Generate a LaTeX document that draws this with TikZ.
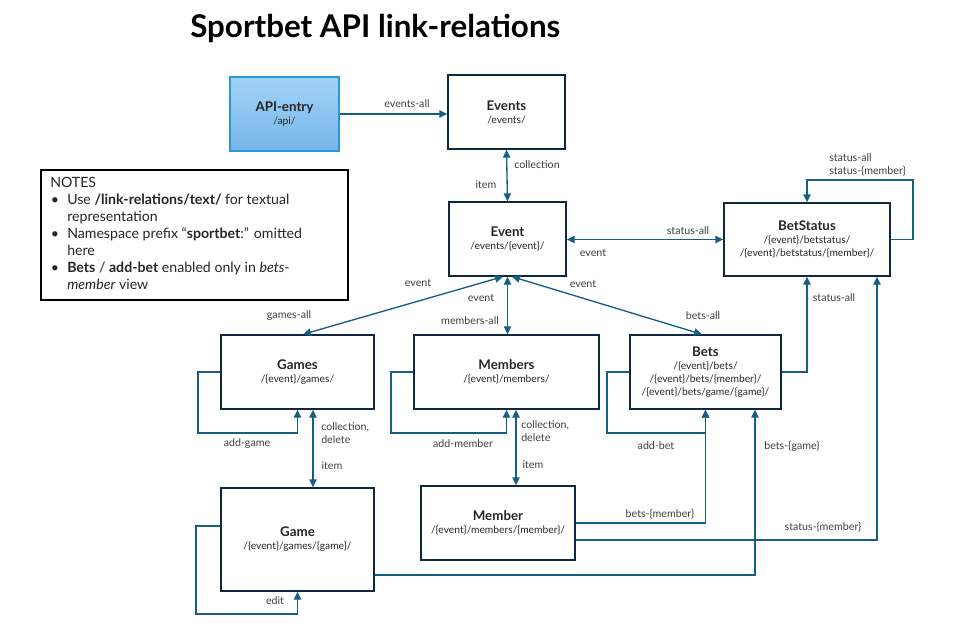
\documentclass[tikz,border=0pt]{standalone}
\usepackage{fontspec}
\setmainfont{Lato}
\usetikzlibrary{arrows.meta,calc}
\definecolor{lnc}{HTML}{156082}
\definecolor{bxc}{HTML}{0E2841}
\definecolor{lbc}{HTML}{404040}
\definecolor{apitop}{HTML}{A2D2F6}
\definecolor{apibot}{HTML}{76B6EA}
\definecolor{apibd}{HTML}{2A96D6}
\newcommand{\bxname}[1]{{\fontsize{10}{12}\selectfont\bfseries #1}}
\begin{document}
\begin{tikzpicture}[x=0.75pt,y=-0.75pt,
  box/.style={draw=bxc,line width=1pt,fill=white,inner sep=0pt,align=center,
    font=\fontsize{7.7}{9.75}\selectfont,text=black!85},
  conn/.style={draw=lnc,line width=1pt,-{Triangle[length=6pt,width=5.5pt]}},
  conntwo/.style={draw=lnc,line width=1pt,{Triangle[length=6pt,width=5.5pt]}-{Triangle[length=6pt,width=5.5pt]}},
  lbl/.style={text=lbc,font=\fontsize{8}{9}\selectfont,inner sep=0pt}]
\fill[white] (0,0) rectangle (965,635);
\useasboundingbox (0,0) rectangle (965,635);

\node[anchor=base west,inner sep=0pt,font=\fontsize{23.5}{28}\selectfont\bfseries] (title) at (190,38) {Sportbet API link-relations};

% boxes
\node[box,draw=apibd,top color=apitop,bottom color=apibot,minimum width=81.75pt,minimum height=55.5pt] (api) at (284.5,114) {\bxname{API-entry}\\/api/};
\node[box,minimum width=87.75pt,minimum height=55.5pt] (events) at (506.5,112) {\bxname{Events}\\/events/};
\node[box,minimum width=87.75pt,minimum height=55.5pt] (event) at (507.5,239) {\bxname{Event}\\/events/\{event\}/};
\node[box,minimum width=124.5pt,minimum height=54.75pt] (betstatus) at (807,239.5) {\bxname{BetStatus}\\/\{event\}/betstatus/\\/\{event\}/betstatus/\{member\}/};
\node[box,minimum width=114.75pt,minimum height=55.5pt] (games) at (297.5,372) {\bxname{Games}\\/\{event\}/games/};
\node[box,minimum width=138.75pt,minimum height=55.5pt] (members) at (506.5,372) {\bxname{Members}\\/\{event\}/members/};
\node[box,minimum width=113.25pt,minimum height=55.5pt] (bets) at (705.5,372) {\bxname{Bets}\\/\{event\}/bets/\\/\{event\}/bets/\{member\}/\\/\{event\}/bets/game/\{game\}/};
\node[box,minimum width=114.75pt,minimum height=77.25pt] (game) at (297.5,539.5) {\bxname{Game}\\/\{event\}/games/\{game\}/};
\node[box,minimum width=115.5pt,minimum height=55.5pt] (member) at (498,523) {\bxname{Member}\\/\{event\}/members/\{member\}/};

% notes
\node[draw=black,line width=0.9pt,minimum width=230.25pt,minimum height=97.5pt,inner sep=0pt] (notes) at (194.5,235) {};
\node[anchor=north west,inner sep=0pt,align=left,font=\fontsize{10.6}{12.75}\selectfont,text=black!85] (notestext) at (50,177) {NOTES\\
\hspace*{0.5pt}\makebox[12.25pt][l]{•}Use \textbf{/link-relations/text/} for textual\\
\hspace*{12.75pt}representation\\
\hspace*{0.5pt}\makebox[12.25pt][l]{•}Namespace prefix “\textbf{sportbet}:” omitted\\
\hspace*{12.75pt}here\\
\hspace*{0.5pt}\makebox[12.25pt][l]{•}\textbf{Bets} / \textbf{add-bet} enabled only in \textit{bets}-\\
\hspace*{12.75pt}\textit{member} view};

% connectors
\draw[conn] (api.east) -- (api.east -| events.west);
\draw[conntwo] (events.south) -- (event.north);
\draw[conntwo] (event.east |- betstatus.west) -- (betstatus.west);
\draw[conn] (betstatus.east) -| (913,180) -| (betstatus.north);
\draw[conntwo] ($(event.south)+(-4.5,0)$) -- ($(games.north)+(5.5,0)$);
\draw[conntwo] (event.south) -- (event.south |- members.north);
\draw[conntwo] ($(event.south)+(4.5,0)$) -- ($(bets.north)+(-3.5,0)$);
\draw[conn] (bets.east) -| (betstatus.south);
\draw[conn] (member.east |- 0,540) -| (betstatus.south -| 877,0);
\draw[conn] (games.west) -| (198,433) -| (games.south);
\draw[conntwo] (games.south -| 313,0) -- (game.north -| 313,0);
\draw[conn] (members.west) -| (391,433) -| (members.south);
\draw[conntwo] (members.south -| 516,0) -- (member.north -| 516,0);
\draw[conn] (game.west |- 0,526) -| (196,614) -| (game.south);
\draw[conn] (game.east |- 0,575) -| (bets.south -| 755,0);
\draw[conn] (member.east) -| (bets.south);
\draw[conn] (bets.west) -| (607,433) -| (bets.south);

% labels
\node[lbl] (l1) at (407,104) {events-all};
\node[lbl] (l2) at (537,165) {collection};
\node[lbl] (l3) at (486,185) {item};
\node[lbl] (l4) at (688,231) {status-all};
\node[lbl] (l5) at (593,253) {event};
\node[lbl,anchor=west,align=left,font=\fontsize{8}{9.5}\selectfont] (l6) at (829,165) {status-all\\status-\{member\}};
\node[lbl] (l7) at (418,283) {event};
\node[lbl] (l8) at (289,316) {games-all};
\node[lbl] (l9) at (481,298) {event};
\node[lbl] (l10) at (470,321) {members-all};
\node[lbl] (l11) at (583,284) {event};
\node[lbl] (l12) at (703,316) {bets-all};
\node[lbl] (l13) at (834,298) {status-all};
\node[lbl] (l14) at (247,444) {add-game};
\node[lbl,anchor=west,align=left,font=\fontsize{8}{9.5}\selectfont] (l15) at (321,433) {collection,\\delete};
\node[lbl] (l16) at (332,466) {item};
\node[lbl] (l17) at (463,444) {add-member};
\node[lbl,anchor=west,align=left,font=\fontsize{8}{9.5}\selectfont] (l18) at (521,431) {collection,\\delete};
\node[lbl] (l19) at (533,465) {item};
\node[lbl] (l20) at (275,601) {edit};
\node[lbl] (l21) at (656,446) {add-bet};
\node[lbl] (l22) at (792,446) {bets-\{game\}};
\node[lbl] (l23) at (660,514) {bets-\{member\}};
\node[lbl] (l24) at (823,527) {status-\{member\}};
\end{tikzpicture}
\end{document}
